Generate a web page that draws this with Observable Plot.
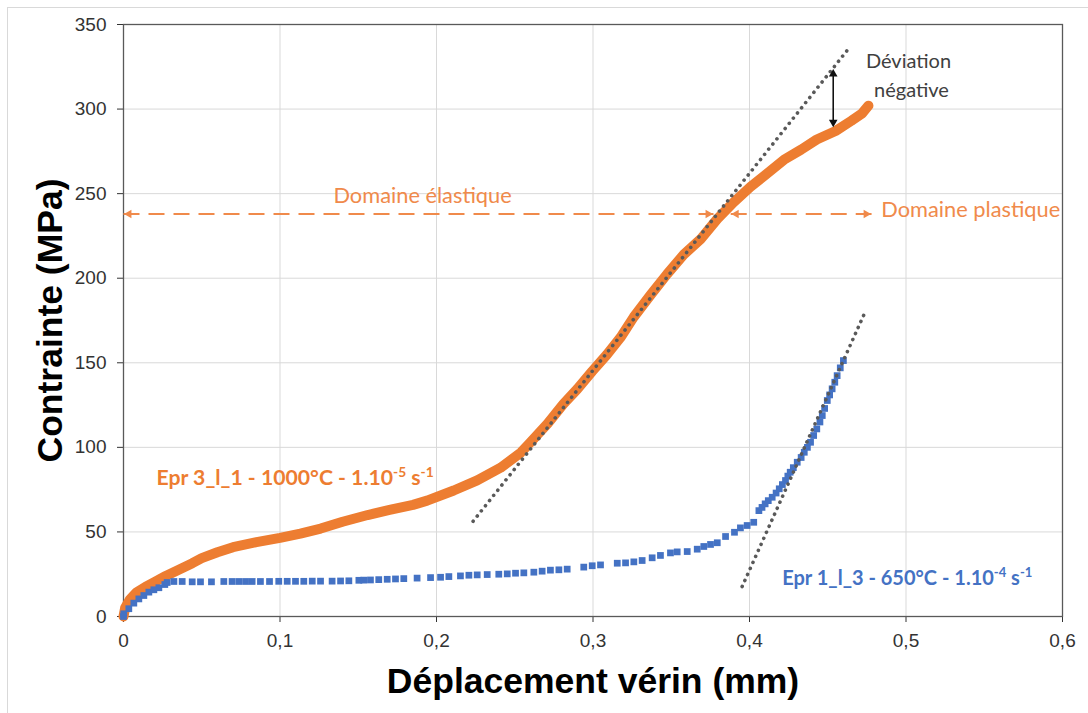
<!DOCTYPE html>
<html><head><meta charset="utf-8">
<script src="https://cdn.jsdelivr.net/npm/d3@7"></script>
<script src="https://cdn.jsdelivr.net/npm/@observablehq/plot@0.6"></script>
<style>
body{margin:0;background:#fff;}
#border{position:absolute;left:7px;top:7px;width:1081px;height:706px;border-left:1px solid #d9d9d9;border-top:1px solid #d9d9d9;}
#chart{position:absolute;left:0;top:0;}
</style></head><body>
<div id="border"></div><div id="chart"></div>
<script>
// ---- data ----
const xTicks = [0, 0.1, 0.2, 0.3, 0.4, 0.5, 0.6];
const yTicks = [0, 50, 100, 150, 200, 250, 300, 350];

const orangeDisp = [0, 0.001, 0.004, 0.008, 0.014, 0.02, 0.027, 0.035, 0.044, 0.05, 0.06, 0.07, 0.085, 0.1, 0.113, 0.126, 0.14, 0.156, 0.17, 0.185, 0.194, 0.211, 0.226, 0.241, 0.254, 0.26, 0.271, 0.281, 0.29, 0.2995, 0.309, 0.3176, 0.326, 0.3367, 0.3474, 0.358, 0.3687, 0.3794, 0.39, 0.4006, 0.41, 0.422, 0.433, 0.443, 0.455, 0.465, 0.472, 0.476];
const orangeStress = [0, 5, 10, 14, 17.5, 20.5, 24, 27.5, 31.5, 34.5, 38, 41, 44, 46.5, 49, 52, 56, 60, 63, 66, 68.5, 74.5, 80.5, 88, 97, 103, 114, 125.5, 134.5, 145, 155, 165, 177, 190, 202.5, 214, 223, 235, 245, 254, 261, 270, 276, 282, 287, 293, 297.5, 302];

const blueDisp = [0, 0.0002, 0.0034, 0.0066, 0.0098, 0.013, 0.0162, 0.0194, 0.0226, 0.0264, 0.0279, 0.0322, 0.0375, 0.0439, 0.0492, 0.0562, 0.0641, 0.0694, 0.0737, 0.078, 0.0822, 0.0875, 0.0933, 0.0992, 0.1046, 0.1099, 0.1152, 0.1206, 0.1259, 0.1333, 0.1387, 0.144, 0.1504, 0.1535, 0.1578, 0.1631, 0.1685, 0.1738, 0.1791, 0.1876, 0.1962, 0.2026, 0.2079, 0.2153, 0.2207, 0.226, 0.2324, 0.2398, 0.2452, 0.2505, 0.2558, 0.2622, 0.2675, 0.2728, 0.2782, 0.2835, 0.2941, 0.2995, 0.3048, 0.3155, 0.3208, 0.3261, 0.3314, 0.3378, 0.3431, 0.3495, 0.3538, 0.3602, 0.3666, 0.3708, 0.3751, 0.3794, 0.3847, 0.3904, 0.3942, 0.3985, 0.4027, 0.406, 0.408, 0.410, 0.412, 0.4145, 0.417, 0.419, 0.421, 0.423, 0.4245, 0.426, 0.428, 0.4305, 0.433, 0.435, 0.437, 0.439, 0.441, 0.443, 0.445, 0.4465, 0.448, 0.4497, 0.4512, 0.4528, 0.4545, 0.456, 0.458, 0.460];
const blueStress = [0, 1.6, 4.6, 7.9, 10.4, 12.4, 14.4, 15.8, 17, 18.9, 20.1, 20.7, 20.7, 20.5, 20.5, 20.5, 20.7, 20.7, 20.7, 20.7, 20.7, 20.7, 20.7, 20.8, 20.8, 20.8, 20.8, 20.9, 20.9, 20.9, 21.0, 21.1, 21.4, 21.5, 21.6, 21.8, 22.0, 22.2, 22.4, 22.7, 23.0, 23.2, 23.6, 24.0, 24.4, 24.6, 24.8, 25.0, 25.2, 25.6, 25.8, 26.2, 26.8, 27.4, 27.6, 28.0, 29.2, 30.0, 30.5, 31.5, 31.7, 32.3, 33.1, 34.7, 36.1, 37.6, 38.2, 38.4, 39.8, 41.4, 42.6, 43.6, 47.3, 49.8, 52.4, 53.8, 55.7, 62.6, 64.5, 66.6, 68.5, 70.5, 73, 75.5, 78, 80.4, 83, 85.3, 88, 91.2, 94, 97.1, 100, 103, 107, 110.9, 115, 118.8, 123, 127.7, 131, 134.6, 138.5, 142.4, 147, 151.3];

const tangentOrangeDisp = [0.2234, 0.4633];
const tangentOrangeStress = [56.3, 335.7];
const tangentBlueDisp = [0.3953, 0.4745];
const tangentBlueStress = [17.7, 181.3];

const domainStress = 238;
const elasticSpan = [0, 0.377];
const plasticSpan = [0.388, 0.478];
const deviationDisp = 0.4535;
const deviationSpan = [290, 323];

const elasticLabel = "Domaine élastique";
const elasticLabelDisp = 0.1911;
const elasticLabelStress = 248.8;
const plasticLabel = "Domaine plastique";
const plasticLabelDisp = 0.4842;
const plasticLabelStress = 240.5;

const deviationLines = ["Déviation", "négative"];
const deviationLineDisp = [0.5016, 0.5035];
const deviationLineStress = [328, 311];

const seriesLabels = ["Epr 3_l_1 - 1000°C - 1.10^-5 s^-1", "Epr 1_l_3 - 650°C - 1.10^-4 s^-1"];
const seriesLabelDisp = [0.0211, 0.4209];
const seriesLabelStress = [81.6, 22.3];
const seriesColors = ["#ED7D31", "#4472C4"];

const xTitle = "Déplacement vérin (mm)";
const yTitle = "Contrainte (MPa)";

// ---- derived tables ----
const orange = orangeDisp.map((x, i) => ({x, y: orangeStress[i]}));
const blue = blueDisp.map((x, i) => ({x, y: blueStress[i]}));
const tanO = tangentOrangeDisp.map((x, i) => ({x, y: tangentOrangeStress[i]}));
const tanB = tangentBlueDisp.map((x, i) => ({x, y: tangentBlueStress[i]}));
const dashLinks = [
  {x1: elasticSpan[0], x2: elasticSpan[1], y: domainStress},
  {x1: plasticSpan[0], x2: plasticSpan[1], y: domainStress}
];
const heads = [
  {x: elasticSpan[0] + 0.0035, y: domainStress, r: -90},
  {x: elasticSpan[1] - 0.0035, y: domainStress, r: 90},
  {x: plasticSpan[0] + 0.0035, y: domainStress, r: -90},
  {x: plasticSpan[1] - 0.0035, y: domainStress, r: 90}
];
const devHeads = [
  {x: deviationDisp, y: deviationSpan[0] + 2.2, r: 180},
  {x: deviationDisp, y: deviationSpan[1] - 2.2, r: 0}
];
const devRows = deviationLines.map((t, i) => ({t, x: deviationLineDisp[i], y: deviationLineStress[i]}));
const serRows = seriesLabels.map((t, i) => ({t, x: seriesLabelDisp[i], y: seriesLabelStress[i], c: seriesColors[i]}));

const labelFont = "Lato, 'Open Sans', sans-serif";
const titleFont = "'Liberation Sans', Arial, sans-serif";
const orangeText = "#F08A4B";

const plot = Plot.plot({
  width: 1088, height: 713,
  marginLeft: 123, marginRight: 26, marginTop: 24, marginBottom: 97,
  style: {fontFamily: titleFont, fontSize: "19px", color: "#333", background: "transparent", overflow: "visible"},
  x: {domain: [0, 0.6], ticks: xTicks, tickFormat: d => d === 0 ? "0" : String(d).replace(".", ","), tickSize: 6, tickPadding: 11, label: null},
  y: {domain: [0, 350], ticks: yTicks, tickSize: 6, tickPadding: 11, label: null},
  marks: [
    Plot.ruleX(xTicks.slice(1, -1), {stroke: "#d9d9d9", strokeWidth: 1}),
    Plot.ruleY(yTicks.slice(1, -1), {stroke: "#d9d9d9", strokeWidth: 1}),
    Plot.frame({stroke: "#595959", strokeWidth: 1.3}),
    Plot.line(orange, {x: "x", y: "y", stroke: "#ED7D31", strokeWidth: 10, strokeLinecap: "round", strokeLinejoin: "round"}),
    Plot.dot(blue, {x: "x", y: "y", symbol: "square", r: 3.8, fill: "#4472C4", stroke: "none"}),
    Plot.line(tanO, {x: "x", y: "y", stroke: "#595959", strokeWidth: 3.6, strokeDasharray: "0.1 6.5", strokeLinecap: "round"}),
    Plot.line(tanB, {x: "x", y: "y", stroke: "#595959", strokeWidth: 3.6, strokeDasharray: "0.1 6.5", strokeLinecap: "round"}),
    Plot.link(dashLinks, {x1: "x1", x2: "x2", y1: "y", y2: "y", stroke: orangeText, strokeWidth: 2, strokeDasharray: "16 9"}),
    Plot.dot(heads, {x: "x", y: "y", rotate: "r", symbol: "triangle", r: 3.2, fill: orangeText, stroke: "none"}),
    Plot.link([{x: deviationDisp, y1: deviationSpan[0] + 3, y2: deviationSpan[1] - 3}], {x1: "x", x2: "x", y1: "y1", y2: "y2", stroke: "#111", strokeWidth: 1.6}),
    Plot.dot(devHeads, {x: "x", y: "y", rotate: "r", symbol: "triangle", r: 3.2, fill: "#111", stroke: "none"}),
    Plot.text([elasticLabel], {x: elasticLabelDisp, y: elasticLabelStress, textAnchor: "middle", lineAnchor: "middle", fill: orangeText, fontSize: 21.8, fontFamily: labelFont}),
    Plot.text([plasticLabel], {x: plasticLabelDisp, y: plasticLabelStress, textAnchor: "start", lineAnchor: "middle", fill: orangeText, fontSize: 21.8, fontFamily: labelFont}),
    Plot.text(devRows, {x: "x", y: "y", text: "t", textAnchor: "middle", lineAnchor: "middle", fill: "#404040", fontSize: 20, fontFamily: labelFont}),
    Plot.text(serRows.slice(0, 1), {x: "x", y: "y", text: "t", textAnchor: "start", lineAnchor: "middle", fill: "c", fontSize: 21.2, fontWeight: "bold", fontFamily: labelFont}),
    Plot.text(serRows.slice(1), {x: "x", y: "y", text: "t", textAnchor: "start", lineAnchor: "middle", fill: "c", fontSize: 20, fontWeight: "bold", fontFamily: labelFont}),
    Plot.text([xTitle], {frameAnchor: "bottom", dy: 76, textAnchor: "middle", lineAnchor: "bottom", fontSize: 35.5, fontWeight: "bold", fill: "#000", fontFamily: titleFont}),
    Plot.text([yTitle], {frameAnchor: "left", dx: -62, rotate: -90, textAnchor: "middle", lineAnchor: "bottom", fontSize: 35.5, fontWeight: "bold", fill: "#000", fontFamily: titleFont})
  ]
});

// superscripts as real tspans
plot.querySelectorAll("text").forEach(t => {
  const s = t.textContent;
  if (s.includes("^")) {
    while (t.firstChild) t.removeChild(t.firstChild);
    s.split(/(\^\S+)/).forEach(p => {
      if (!p) return;
      const ts = document.createElementNS("http://www.w3.org/2000/svg", "tspan");
      if (p.startsWith("^")) {
        ts.textContent = p.slice(1);
        ts.setAttribute("baseline-shift", "super");
        ts.setAttribute("font-size", "65%");
      } else ts.textContent = p;
      t.appendChild(ts);
    });
  }
});

document.getElementById("chart").appendChild(plot);
</script>
</body></html>
